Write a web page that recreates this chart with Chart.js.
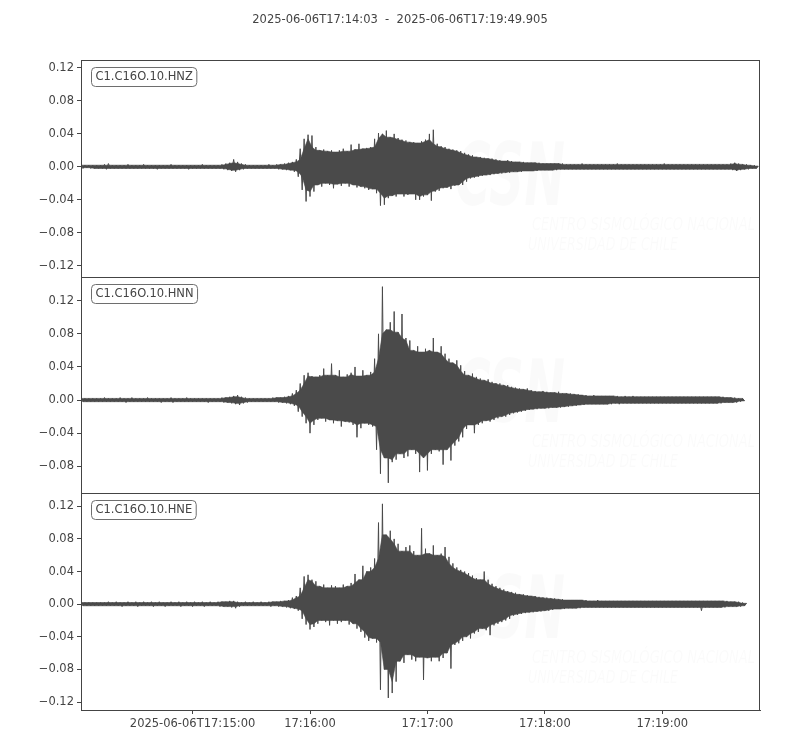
<!DOCTYPE html>
<html>
<head>
<meta charset="utf-8">
<title>C1.C16O.10 waveforms</title>
<script src="https://cdn.jsdelivr.net/npm/chart.js@4.4.1/dist/chart.umd.min.js"></script>
<style>
  html, body { margin: 0; padding: 0; background: #fff; }
  #wrap { width: 800px; height: 750px; }
</style>
</head>
<body>
<div id="wrap"><canvas id="seismo" width="800" height="750"></canvas></div>
<script>
// trace window, seconds after 2025-06-06T17:14:03
const titleText = '2025-06-06T17:14:03  -  2025-06-06T17:19:49.905';
const traceSpan = 346.905;
const sampleStep = 1; // one sample per second, alternating peak / trough

const xTickSeconds = [57, 117, 177, 237, 297];
const xTickLabels = ['2025-06-06T17:15:00', '17:16:00', '17:17:00', '17:18:00', '17:19:00'];

const channelNames = ['C1.C16O.10.HNZ', 'C1.C16O.10.HNN', 'C1.C16O.10.HNE'];

const ticksZ = [-0.12, -0.08, -0.04, 0, 0.04, 0.08, 0.12];
const ticksN = [-0.08, -0.04, 0, 0.04, 0.08, 0.12];
const ticksE = [-0.12, -0.08, -0.04, 0, 0.04, 0.08, 0.12];

const rangeZ = [-0.1333, 0.1297];
const rangeN = [-0.1127, 0.1491];
const rangeE = [-0.1298, 0.1359];

// peak values, one per second
const hnzValues = [
  .002,-.002,.002,-.001,.002,-.002,.002,-.002,.002,-.002,
  .002,-.002,.003,-.003,.004,-.002,.002,-.002,.002,-.002,
  .002,-.002,.002,-.002,.003,-.002,.002,-.002,.002,-.002,
  .002,-.002,.003,-.002,.002,-.002,.002,-.002,.002,-.003,
  .002,-.002,.002,-.002,.002,-.002,.003,-.002,.002,-.002,
  .002,-.002,.002,-.002,.002,-.003,.002,-.002,.002,-.002,
  .002,-.002,.003,-.002,.002,-.002,.002,-.002,.002,-.002,
  .002,-.002,.003,-.003,.004,-.004,.005,-.005,.009,-.006,
  .006,-.004,.004,-.003,.003,-.002,.002,-.002,.002,-.002,
  .002,-.002,.002,-.002,.002,-.002,.003,-.002,.002,-.002,
  .003,-.003,.003,-.003,.004,-.004,.005,-.004,.006,-.006,
  .009,-.012,.022,-.028,.034,-.042,.039,-.036,.038,-.03,
  .024,-.022,.02,-.024,.021,-.02,.019,-.022,.02,-.026,
  .018,-.021,.02,-.023,.022,-.02,.019,-.024,.027,-.022,
  .021,-.025,.028,-.024,.022,-.026,.023,-.028,.024,-.027,
  .034,-.032,.041,-.047,.04,-.046,.044,-.038,.036,-.035,
  .04,-.036,.035,-.033,.033,-.036,.032,-.034,.03,-.033,
  .03,-.04,.029,-.04,.031,-.036,.033,-.034,.04,-.041,
  .045,-.03,.028,-.029,.025,-.026,.024,-.025,.022,-.027,
  .021,-.023,.02,-.022,.019,-.022,.017,-.018,.015,-.014,
  .014,-.013,.012,-.012,.012,-.011,.011,-.01,.01,-.01,
  .01,-.009,.009,-.008,.008,-.008,.007,-.007,.008,-.007,
  .007,-.006,.006,-.006,.006,-.006,.006,-.005,.005,-.005,
  .005,-.005,.005,-.005,.005,-.004,.004,-.004,.004,-.004,
  .004,-.004,.004,-.004,.004,-.003,.004,-.003,.003,-.003,
  .003,-.003,.003,-.003,.003,-.003,.004,-.003,.003,-.003,
  .003,-.003,.003,-.003,.003,-.003,.003,-.003,.003,-.003,
  .003,-.003,.003,-.003,.004,-.003,.003,-.003,.003,-.003,
  .003,-.003,.003,-.003,.003,-.003,.003,-.003,.003,-.003,
  .003,-.003,.003,-.003,.003,-.003,.003,-.003,.004,-.003,
  .003,-.003,.003,-.003,.003,-.003,.003,-.003,.003,-.003,
  .003,-.003,.003,-.003,.003,-.003,.003,-.003,.003,-.003,
  .003,-.003,.003,-.003,.003,-.003,.003,-.003,.003,-.003,
  .003,-.003,.004,-.004,.005,-.005,.004,-.004,.003,-.003,
  .003,-.003,.002,-.002,.002,-.002,.001
];

const hnnValues = [
  .002,-.002,.002,-.002,.002,-.002,.002,-.002,.002,-.002,
  .002,-.002,.003,-.002,.002,-.002,.002,-.002,.002,-.002,
  .003,-.002,.002,-.003,.002,-.002,.003,-.002,.002,-.002,
  .002,-.002,.002,-.002,.003,-.002,.002,-.002,.002,-.002,
  .002,-.003,.002,-.002,.002,-.002,.003,-.003,.002,-.002,
  .002,-.002,.002,-.002,.003,-.002,.002,-.002,.002,-.002,
  .002,-.002,.002,-.002,.002,-.003,.002,-.002,.002,-.002,
  .002,-.002,.003,-.003,.003,-.003,.004,-.004,.005,-.005,
  .006,-.006,.004,-.004,.003,-.003,.002,-.002,.002,-.002,
  .002,-.002,.002,-.002,.002,-.002,.002,-.002,.003,-.002,
  .003,-.003,.003,-.003,.004,-.004,.005,-.005,.008,-.007,
  .012,-.014,.02,-.02,.03,-.028,.033,-.04,.029,-.03,
  .028,-.024,.03,-.022,.038,-.026,.03,-.024,.044,-.028,
  .03,-.025,.036,-.032,.028,-.026,.031,-.027,.033,-.03,
  .04,-.045,.029,-.034,.036,-.028,.03,-.03,.034,-.032,
  .05,-.06,.08,-.089,.137,-.07,.085,-.1,.094,-.075,
  .107,-.072,.082,-.065,.104,-.07,.075,-.068,.072,-.06,
  .06,-.065,.065,-.087,.058,-.07,.062,-.085,.06,-.065,
  .075,-.06,.058,-.062,.065,-.078,.056,-.06,.05,-.073,
  .045,-.055,.048,-.05,.042,-.045,.035,-.035,.03,-.03,
  .032,-.04,.028,-.03,.026,-.028,.024,-.025,.025,-.026,
  .022,-.024,.02,-.022,.02,-.02,.018,-.02,.018,-.018,
  .016,-.016,.015,-.015,.014,-.014,.013,-.013,.014,-.012,
  .012,-.011,.011,-.011,.01,-.01,.011,-.01,.01,-.01,
  .009,-.009,.009,-.009,.01,-.009,.008,-.008,.008,-.008,
  .008,-.007,.007,-.007,.007,-.006,.006,-.006,.006,-.005,
  .005,-.005,.006,-.005,.005,-.005,.005,-.005,.005,-.005,
  .005,-.005,.005,-.004,.005,-.005,.004,-.004,.005,-.004,
  .004,-.004,.005,-.004,.004,-.004,.004,-.004,.004,-.004,
  .004,-.004,.004,-.004,.004,-.004,.004,-.004,.004,-.004,
  .004,-.004,.004,-.004,.004,-.004,.004,-.004,.004,-.004,
  .004,-.004,.004,-.004,.004,-.004,.004,-.004,.004,-.004,
  .004,-.004,.004,-.004,.004,-.004,.004,-.004,.004,-.003,
  .003,-.003,.003,-.003,.003,-.003,.002,-.002,.002,-.001
];

const hneValues = [
  .002,-.002,.002,-.002,.002,-.002,.002,-.002,.002,-.002,
  .002,-.002,.002,-.002,.003,-.002,.002,-.002,.003,-.002,
  .002,-.003,.002,-.002,.003,-.002,.002,-.002,.003,-.003,
  .002,-.002,.003,-.002,.002,-.002,.003,-.003,.002,-.002,
  .003,-.002,.002,-.003,.002,-.002,.003,-.002,.002,-.002,
  .003,-.003,.002,-.002,.003,-.002,.002,-.003,.003,-.002,
  .002,-.002,.003,-.003,.002,-.002,.003,-.002,.002,-.002,
  .003,-.003,.003,-.003,.003,-.003,.004,-.004,.004,-.005,
  .003,-.003,.002,-.002,.003,-.002,.002,-.002,.003,-.002,
  .002,-.002,.003,-.002,.002,-.002,.003,-.003,.003,-.002,
  .003,-.003,.004,-.003,.004,-.004,.005,-.005,.008,-.006,
  .01,-.008,.02,-.018,.034,-.025,.036,-.031,.03,-.028,
  .028,-.024,.022,-.02,.024,-.022,.02,-.026,.023,-.02,
  .022,-.024,.02,-.022,.024,-.02,.022,-.025,.026,-.024,
  .037,-.03,.03,-.034,.047,-.041,.04,-.045,.045,-.042,
  .056,-.047,.1,-.105,.123,-.08,.085,-.115,.09,-.109,
  .08,-.095,.074,-.07,.065,-.072,.07,-.062,.072,-.068,
  .065,-.07,.06,-.065,.093,-.093,.068,-.066,.062,-.07,
  .072,-.065,.06,-.07,.062,-.066,.07,-.06,.058,-.079,
  .05,-.05,.045,-.048,.042,-.045,.04,-.04,.038,-.042,
  .035,-.036,.032,-.034,.03,-.03,.04,-.032,.03,-.038,
  .025,-.026,.022,-.024,.02,-.022,.018,-.02,.016,-.018,
  .015,-.014,.014,-.013,.012,-.012,.012,-.011,.011,-.01,
  .01,-.01,.01,-.009,.009,-.009,.008,-.008,.008,-.008,
  .007,-.007,.007,-.006,.006,-.006,.006,-.006,.005,-.005,
  .005,-.005,.005,-.005,.005,-.005,.005,-.004,.005,-.004,
  .004,-.004,.004,-.004,.005,-.004,.004,-.004,.004,-.004,
  .004,-.004,.004,-.004,.004,-.004,.004,-.004,.004,-.004,
  .004,-.004,.004,-.004,.004,-.004,.004,-.004,.004,-.004,
  .004,-.004,.004,-.004,.004,-.004,.004,-.004,.004,-.004,
  .004,-.004,.004,-.004,.004,-.004,.004,-.004,.004,-.004,
  .004,-.004,.004,-.004,.004,-.004,.004,-.008,.004,-.004,
  .004,-.004,.004,-.004,.004,-.004,.004,-.004,.004,-.004,
  .004,-.003,.003,-.003,.003,-.003,.003,-.003,.002,-.002,
  .001
];

const textColor = '#444444';
const traceColor = '#4a4a4a';
const fontFamily = '"DejaVu Sans", sans-serif';

function toPoints(values) {
  return values.map((v, i) => ({ x: i * sampleStep, y: v }));
}

// dense core of the trace: each peak (or trough) clipped to its smaller
// neighbour, so the bigger swings stick out as single spikes
function bandPoints(values) {
  const up = values.map((v, i) => ({ v, i })).filter(p => p.v >= 0);
  const low = values.map((v, i) => ({ v, i })).filter(p => p.v < 0);
  const core = (arr, pick) => arr.map((p, k) => {
    const a = arr[Math.max(0, k - 1)].v, b = arr[Math.min(arr.length - 1, k + 1)].v;
    return { x: p.i * sampleStep, y: pick(p.v, a, b) };
  });
  const upper = core(up, Math.min);
  const lower = core(low, Math.max);
  return upper.concat(lower.reverse());
}

function fmtTick(v) {
  return v.toFixed(2).replace('-', '\u2212');
}

function yAxis(range, ticks) {
  return {
    type: 'linear',
    position: 'left',
    stack: 'traces',
    min: range[0],
    max: range[1],
    afterBuildTicks: (s) => { s.ticks = ticks.map(v => ({ value: v })); },
    afterFit: (s) => { s.width = 81; },
    ticks: {
      color: textColor,
      padding: 3,
      font: { family: fontFamily, size: 11.5 },
      callback: (v) => fmtTick(v)
    },
    grid: { drawOnChartArea: false, drawTicks: true, tickLength: 4, color: textColor },
    border: { display: true, color: textColor, width: 1 }
  };
}

// frames, station labels, watermark and title
const panelDecor = {
  id: 'panelDecor',
  beforeDatasetsDraw(chart) {
    const { ctx, chartArea } = chart;
    ['yZ', 'yN', 'yE'].forEach((id) => {
      const s = chart.scales[id];
      ctx.save();
      ctx.fillStyle = 'rgba(0,0,0,0.018)';
      ctx.font = 'italic bold 88px ' + fontFamily;
      ctx.fillText('CSN', chartArea.left + 374, s.top + 145, 110);
      ctx.font = 'italic 18px ' + fontFamily;
      ctx.fillText('CENTRO SISMOL\u00d3GICO NACIONAL', chartArea.left + 451, s.top + 170, 223);
      ctx.fillText('UNIVERSIDAD DE CHILE', chartArea.left + 447, s.top + 190, 150);
      ctx.restore();
    });
  },
  afterDraw(chart) {
    const { ctx, chartArea } = chart;
    const ids = ['yZ', 'yN', 'yE'];
    ctx.save();
    ids.forEach((id, i) => {
      const s = chart.scales[id];
      ctx.strokeStyle = textColor;
      ctx.lineWidth = 1;
      ctx.strokeRect(chartArea.left + 0.5, Math.round(s.top) + 0.5,
        chartArea.right - chartArea.left - 1, Math.round(s.bottom) - Math.round(s.top));

      ctx.font = '11.5px ' + fontFamily;
      const w = ctx.measureText(channelNames[i]).width;
      const bx = chartArea.left + 10.5, by = Math.round(s.top) + 7.5;
      ctx.beginPath();
      ctx.roundRect(bx, by, w + 8, 19, 4);
      ctx.fillStyle = '#ffffff';
      ctx.fill();
      ctx.strokeStyle = '#6e6e6e';
      ctx.stroke();
      ctx.fillStyle = textColor;
      ctx.textBaseline = 'middle';
      ctx.fillText(channelNames[i], bx + 4, by + 10);
    });
    ctx.font = '11.5px ' + fontFamily;
    ctx.fillStyle = textColor;
    ctx.textAlign = 'center';
    ctx.textBaseline = 'middle';
    ctx.fillText(titleText, chart.width / 2, 20);
    ctx.restore();
  }
};

const traceStyle = {
  borderColor: traceColor,
  borderWidth: 1,
  pointRadius: 0,
  tension: 0,
  fill: false
};

const bandStyle = {
  borderColor: traceColor,
  backgroundColor: traceColor,
  borderWidth: 0.6,
  pointRadius: 0,
  tension: 0,
  fill: 'shape'
};

new Chart(document.getElementById('seismo'), {
  type: 'line',
  data: {
    datasets: [
      { ...bandStyle, label: channelNames[0] + ' core', data: bandPoints(hnzValues), yAxisID: 'yZ' },
      { ...bandStyle, label: channelNames[1] + ' core', data: bandPoints(hnnValues), yAxisID: 'yN' },
      { ...bandStyle, label: channelNames[2] + ' core', data: bandPoints(hneValues), yAxisID: 'yE' },
      { ...traceStyle, label: channelNames[0], data: toPoints(hnzValues), yAxisID: 'yZ' },
      { ...traceStyle, label: channelNames[1], data: toPoints(hnnValues), yAxisID: 'yN' },
      { ...traceStyle, label: channelNames[2], data: toPoints(hneValues), yAxisID: 'yE' }
    ]
  },
  options: {
    responsive: false,
    animation: false,
    devicePixelRatio: 1,
    parsing: false,
    layout: { padding: { top: 60, right: 40, left: 0, bottom: 0 } },
    plugins: {
      legend: { display: false },
      tooltip: { enabled: false },
      title: { display: false },
      filler: { propagate: false }
    },
    scales: {
      x: {
        type: 'linear',
        min: 0,
        max: traceSpan,
        afterBuildTicks: (s) => { s.ticks = xTickSeconds.map(v => ({ value: v })); },
        afterFit: (s) => { s.height = 40; },
        ticks: {
          color: textColor,
          padding: 3,
          maxRotation: 0,
          autoSkip: false,
          font: { family: fontFamily, size: 11.5 },
          callback: (v) => xTickLabels[xTickSeconds.indexOf(v)]
        },
        grid: { drawOnChartArea: false, drawTicks: true, tickLength: 4, color: textColor },
        border: { display: true, color: textColor, width: 1 }
      },
      yE: yAxis(rangeE, ticksE),
      yN: yAxis(rangeN, ticksN),
      yZ: yAxis(rangeZ, ticksZ)
    }
  },
  plugins: [panelDecor]
});
</script>
</body>
</html>
